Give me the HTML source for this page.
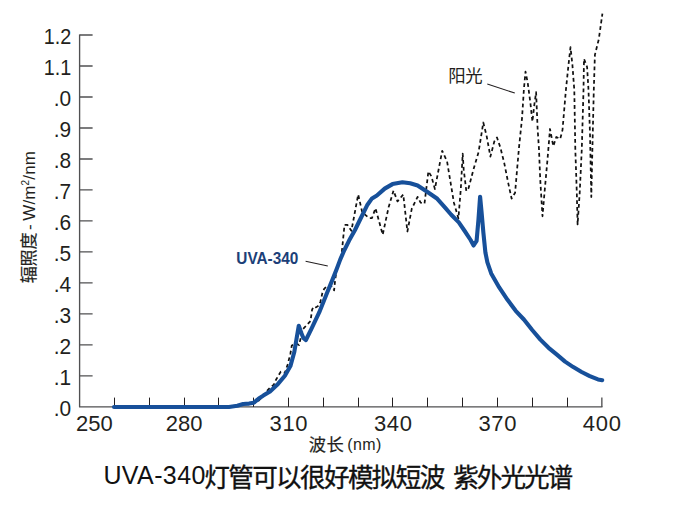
<!DOCTYPE html>
<html lang="zh-CN">
<head>
<meta charset="utf-8">
<title>UVA-340灯管可以很好模拟短波 紫外光光谱</title>
<style>
html,body{margin:0;padding:0;background:#fff}
body{width:677px;height:510px;overflow:hidden}
svg{display:block}
text{font-family:"Liberation Sans",sans-serif;fill:#231f20}
.yt{font-size:22px;text-anchor:end}
.xt{font-size:22px;text-anchor:middle}
.ax{font-size:16px}
.ttl{font-size:25px;letter-spacing:.4px;fill:#111}
.uva{font-size:16.5px;font-weight:bold;fill:#1c3f78}
.cjk{font-family:"Liberation Sans","Noto Sans CJK SC",sans-serif}
</style>
</head>
<body>
<svg width="677" height="510" viewBox="0 0 677 510">
<rect width="677" height="510" fill="#fff"/>

<g fill="none" stroke="#505052" stroke-width="1.35" stroke-linejoin="round">
<path d="M79.6 34.44V406.9H602.45"/>
<path d="M79.6 375.82h13M79.6 344.84h13M79.6 313.86h13M79.6 282.88h13M79.6 251.90h13M79.6 220.92h13M79.6 189.94h13M79.6 158.96h13M79.6 127.98h13M79.6 97.00h13M79.6 66.02h13M79.6 35.04h13"/>
<path d="M601.85 406.9v-9.3"/>
</g>
<path d="M114.5 406.9v-9.3M149.5 406.9v-9.3M184.5 406.9v-9.3M218.5 406.9v-9.3M253.5 406.9v-9.3M288.5 406.9v-9.3M323.5 406.9v-9.3M358.5 406.9v-9.3M392.5 406.9v-9.3M427.5 406.9v-9.3M462.5 406.9v-9.3M497.5 406.9v-9.3M532.5 406.9v-9.3M567.5 406.9v-9.3" fill="none" stroke="#231f20" stroke-width="1"/>
<text class="yt" transform="translate(71.2 416.1) scale(0.95 1)">.0</text>
<text class="yt" transform="translate(71.2 385.1) scale(0.95 1)">.1</text>
<text class="yt" transform="translate(71.2 354.1) scale(0.95 1)">.2</text>
<text class="yt" transform="translate(71.2 323.2) scale(0.95 1)">.3</text>
<text class="yt" transform="translate(71.2 292.2) scale(0.95 1)">.4</text>
<text class="yt" transform="translate(71.2 261.2) scale(0.95 1)">.5</text>
<text class="yt" transform="translate(71.2 230.2) scale(0.95 1)">.6</text>
<text class="yt" transform="translate(71.2 199.2) scale(0.95 1)">.7</text>
<text class="yt" transform="translate(71.2 168.3) scale(0.95 1)">.8</text>
<text class="yt" transform="translate(71.2 137.3) scale(0.95 1)">.9</text>
<text class="yt" transform="translate(71.2 106.3) scale(0.95 1)">.0</text>
<text class="yt" transform="translate(71.2 75.3) scale(0.9 1)">1.1</text>
<text class="yt" transform="translate(71.2 44.3) scale(0.9 1)">1.2</text>
<text class="xt" x="94.4" y="431.4">250</text>
<text class="xt" x="184.1" y="431.4">280</text>
<text class="xt" style="letter-spacing:.7px" x="288.9" y="431.4">310</text>
<text class="xt" style="letter-spacing:.7px" x="393.3" y="431.4">340</text>
<text class="xt" style="letter-spacing:.7px" x="497.8" y="431.4">370</text>
<text class="xt" style="letter-spacing:.7px" x="602.2" y="431.4">400</text>
<polyline points="252,404 258,401.5 262,397 266,392 269.8,388 273.9,384.6 276,379.8 280.8,371.6 284.9,372.9 287.6,364.7 290.4,353.7 291.8,345.5 295.9,343.4 299,345 303,329 310.5,321 312.1,309.6 313.5,306.7 316,307.4 318.6,305.6 320.4,301.8 322.4,292.9 324,289.2 327.1,285.7 331.8,286.5 334.1,290.4 334.9,282.5 336.5,270 341.6,254.3 344.5,224.9 347.5,224.9 351.4,230.8 358.2,194.5 362.2,212.2 369,218 372,218 375.5,208.2 382.7,234.7 388.6,207.3 393.5,190.6 397.5,201.4 403.3,194.5 407.4,231.5 411.8,208.6 417.6,196.9 420.6,202.7 424.5,203.7 428.4,171.4 431.4,176.3 434.9,189 442.2,150.8 447.1,161.6 451,185.1 453.9,202.7 458.4,218.4 460.8,189 462.7,153.7 463.7,169.4 466.3,191 468.6,188 473.5,169.4 478.6,152 483.3,122.5 486.7,136.3 490.4,156.6 494.3,141.5 497,137.5 500.4,147.6 504.3,163.3 508.2,182.9 511.6,198.6 515.1,192.7 517.1,169.2 519,147.6 522,118.6 523.9,89.2 525.5,71.6 527.8,83.3 530.4,102.9 532.4,121.6 534.3,104.9 536.1,92.2 537.6,128.4 539,149.6 540.2,179 542.5,216.3 544.5,192.7 547.5,159.4 550,129 553.3,146.2 556.3,137 560.2,139 562.5,130 565.9,90 568.4,65.7 570.5,47.2 572.4,64.7 574.3,90.2 575.3,148.8 576.8,192.9 577.6,224.4 579.7,192.9 581.8,148.8 583.5,90 584,58.8 587.1,67 588.5,90 590,134.1 591.3,197 592.4,148.8 593.8,90 594.9,54.9 598.8,39.2 602.4,13.7" fill="none" stroke="#111" stroke-width="1.75" stroke-dasharray="3.8 3" stroke-linejoin="round"/>
<polyline points="114,407 229,407 237.3,405.8 243.2,404 249.1,403.6 253.8,402.7 258.5,398.8 263.3,395.6 270,391.5 278,383.9 284.9,375.7 290.4,366.1 294.3,352 296.5,339 298.8,325.7 301.2,332.7 303.5,338.2 305.9,340 311.4,328.8 319.2,312.4 327.6,291.5 332.6,279.4 336.8,268.8 340.3,259.4 344.4,250 349.1,240.6 355,230 359.4,221 367.1,205.3 372,198.4 376.9,195.5 384.7,188.6 392.5,184.1 402.4,182.2 410.2,183.3 417.6,185.5 427.5,192 437.3,198.8 445.1,207.6 451,214.5 458.8,222.4 464.7,231 470.6,240 473.6,245.5 476.6,240.8 478.5,219.2 480.1,196.7 481.5,211.4 483.4,232.9 485.4,252.5 487.4,262.4 491.2,273.4 499.2,287.4 507.5,299.8 515.7,310.8 523.9,319.5 532.2,330 540.4,339.6 548.6,347.8 556.9,354.7 565.1,361.6 573.3,367.1 581.6,372 589.8,376.1 598,379.4 602.2,380.2" fill="none" stroke="#17509a" stroke-width="4.1" stroke-linejoin="round" stroke-linecap="round"/>
<path d="M305.6 261.2L327.8 266M487.3 84L514.8 93.1" stroke="#231f20" stroke-width="1.05" fill="none"/>
<text class="uva" x="236.3" y="263.9" textLength="62" lengthAdjust="spacingAndGlyphs">UVA-340</text>
<text class="cjk" x="448.25" y="81.8" style="font-size:17.4px;letter-spacing:-0.3px;fill:#231f20">阳光</text>
<text class="cjk" transform="translate(35.4 283.2) rotate(-90)" x="-0.15" y="0" style="font-size:17.2px;letter-spacing:-0.3px;fill:#231f20;stroke:#231f20;stroke-width:0.2px">辐照度</text>
<text class="ax" style="font-size:17px;letter-spacing:.15px" transform="translate(35.2 231.5) rotate(-90)"><tspan dx="1.5">-</tspan><tspan dx="-1.5"> W/m</tspan><tspan dy="-6" font-size="10">2</tspan><tspan dy="6">/nm</tspan></text>
<text class="cjk" x="308.8" y="450.6" style="font-size:17.3px;letter-spacing:0.4px;fill:#231f20;stroke:#231f20;stroke-width:0.2px">波长</text>
<text class="ax" style="letter-spacing:.4px" x="347.2" y="450.3">(nm)</text>
<text class="ttl" x="103.4" y="484.4">UVA-340</text>
<text class="cjk" x="204.27" y="486.9" style="font-size:25.6px;letter-spacing:-1.65px;fill:#111;stroke:#111;stroke-width:0.36px">灯管可以很好模拟短波</text>
<text class="cjk" x="453.2" y="486.9" style="font-size:25.6px;letter-spacing:-2px;fill:#111;stroke:#111;stroke-width:0.36px">紫外光光谱</text>
</svg>
</body>
</html>
